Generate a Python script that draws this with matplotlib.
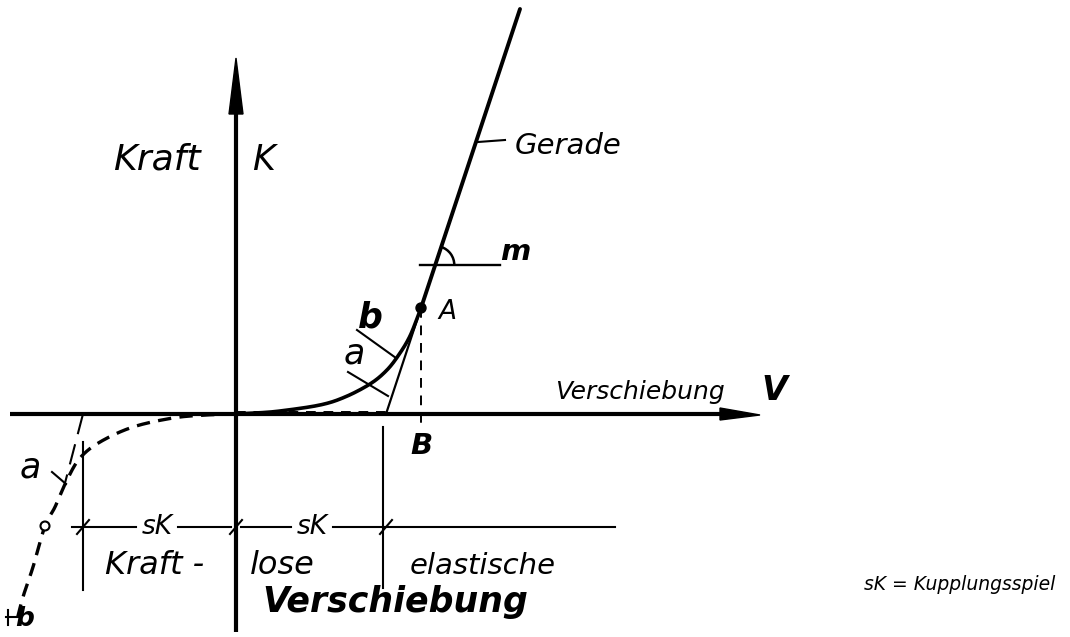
import numpy as np
import matplotlib
matplotlib.use("Agg")
import matplotlib.pyplot as plt
from matplotlib.patches import Polygon, Arc, Circle

# coordinates: origin at the axis crossing, 1 unit = 1 px, y up
sk = 150
# Gerade (straight line), point A on it
gerade_x = [150, 185, 284]
gerade_y = [0, 106, 405]
A = (185, 106)
# curve b (real coupling characteristic, tension side)
b_x = [0, 20, 44, 84, 109, 134, 150, 162, 174, 185]
b_y = [0, 1, 3, 9, 17, 30, 43, 58, 78, 106]
# dashed curve, compression side
c_x = [0, -30, -63, -103, -136, -156, -169, -181, -191, -203, -213, -220]
c_y = [0, -1, -4, -13, -28, -44, -66, -93, -112, -153, -183, -210]
# straight line a, compression side
a_x = [-153, -171]
a_y = [0, -69]

dim_y = -113
dim_ticks = [-153, 0, 150]


def smooth(xs, ys, n=20):
    # catmull-rom through the read points
    p = np.column_stack([xs, ys]).astype(float)
    p = np.vstack([2 * p[0] - p[1], p, 2 * p[-1] - p[-2]])
    out = []
    t = np.linspace(0, 1, n, endpoint=False)[:, None]
    for i in range(1, len(p) - 2):
        p0, p1, p2, p3 = p[i - 1], p[i], p[i + 1], p[i + 2]
        seg = 0.5 * (2 * p1 + (-p0 + p2) * t + (2 * p0 - 5 * p1 + 4 * p2 - p3) * t ** 2
                     + (-p0 + 3 * p1 - 3 * p2 + p3) * t ** 3)
        out.append(seg)
    out.append(p[-2][None, :])
    out = np.vstack(out)
    return out[:, 0], out[:, 1]


fig = plt.figure(figsize=(10.7, 6.37), dpi=100)
ax = fig.add_axes([0, 0, 1, 1])
ax.set_xlim(-236, 834)
ax.set_ylim(-223, 414)
ax.axis("off")

k = "black"
font = dict(family="DejaVu Sans", style="italic", color=k)

# axes with arrows
ax.plot([0, 0], [-218, 310], color=k, lw=3, solid_capstyle="butt")
ax.add_patch(Polygon([[-7, 300], [7, 300], [0, 356]], closed=True, color=k))
ax.plot([-226, 490], [0, 0], color=k, lw=3, solid_capstyle="butt")
ax.add_patch(Polygon([[484, -6], [484, 6], [524, -1]], closed=True, color=k))

# Gerade: thin below A, thick above
ax.plot(gerade_x[:2], gerade_y[:2], color=k, lw=1.6)
ax.plot(gerade_x[1:], gerade_y[1:], color=k, lw=2.8, solid_capstyle="round")
ax.plot([242, 269], [272, 274], color=k, lw=1.5)

# angle m
ax.plot([184, 264], [149, 149], color=k, lw=1.7)
xm = gerade_x[0] + 149 * (gerade_x[2] - gerade_x[0]) / gerade_y[2]
ang = np.degrees(np.arctan2(gerade_y[2], gerade_x[2] - gerade_x[0]))
ax.add_patch(Arc((xm, 149), 38, 38, theta1=0, theta2=ang, color=k, lw=1.8))

# curve b
bx, by = smooth(b_x, b_y)
ax.plot(bx, by, color=k, lw=2.6, solid_capstyle="round")
# curve a: no force until sk
ax.plot([0, 150], [2, 2], color=k, lw=1.4, ls=(0, (5, 4)))

# point A and dashed line to B
ax.add_patch(Circle(A, 5, color=k, zorder=5))
ax.plot([A[0], A[0]], [A[1], -11], color=k, lw=1.4, ls=(0, (5, 4)))

# leaders for a, b
ax.plot([121, 160], [84, 56], color=k, lw=1.5)
ax.plot([112, 152], [42, 18], color=k, lw=1.5)

# compression side
cx, cy = smooth(c_x, c_y)
ax.plot(cx, cy, color=k, lw=2.4, ls=(0, (4, 2.5)))
ax.plot(a_x, a_y, color=k, lw=1.5, ls=(0, (10, 5)))
ax.add_patch(Circle((c_x[8], c_y[8]), 4.5, facecolor="white", edgecolor=k, lw=1.5, zorder=5))
ax.plot([-184, -170], [-58, -70], color=k, lw=1.5)
ax.plot([-230, -216], [-203, -203], color=k, lw=1.5)
ax.plot([-228, -228], [-196, -211], color=k, lw=1.5)

# dimension line with sK
ax.plot([-164, -100], [dim_y, dim_y], color=k, lw=1.5)
ax.plot([-58, -5], [dim_y, dim_y], color=k, lw=1.5)
ax.plot([5, 55], [dim_y, dim_y], color=k, lw=1.5)
ax.plot([97, 379], [dim_y, dim_y], color=k, lw=1.5)
for t in dim_ticks:
    ax.plot([t - 6, t + 6], [dim_y - 7, dim_y + 7], color=k, lw=1.5)
ax.plot([-153, -153], [-28, -176], color=k, lw=1.5)
ax.plot([147, 147], [-13, -174], color=k, lw=1.5)

# texts
ax.text(-79, 254, "Kraft", ha="center", va="center", fontsize=26, **font)
ax.text(16, 254, "K", ha="left", va="center", fontsize=25, **font)
ax.text(279, 268, "Gerade", ha="left", va="center", fontsize=21, **font)
ax.text(264, 162, "m", ha="left", va="center", fontsize=21, fontweight="bold", **font)
ax.text(202, 102, "A", ha="left", va="center", fontsize=19, **font)
ax.text(134, 96, "b", ha="center", va="center", fontsize=25, fontweight="bold", **font)
ax.text(118, 60, "a", ha="center", va="center", fontsize=25, **font)
ax.text(319, 22, "Verschiebung", ha="left", va="center", fontsize=18, **font)
ax.text(525, 24, "V", ha="left", va="center", fontsize=24, fontweight="bold", **font)
ax.text(186, -32, "B", ha="center", va="center", fontsize=21, fontweight="bold", **font)
ax.text(-206, -54, "a", ha="center", va="center", fontsize=25, **font)
ax.text(-211, -205, "b", ha="center", va="center", fontsize=19, fontweight="bold", **font)
ax.text(-79, dim_y, "sK", ha="center", va="center", fontsize=19, **font)
ax.text(76, dim_y, "sK", ha="center", va="center", fontsize=19, **font)
ax.text(-131, -152, "Kraft -", ha="left", va="center", fontsize=23, **font)
ax.text(14, -152, "lose", ha="left", va="center", fontsize=23, **font)
ax.text(174, -152, "elastische", ha="left", va="center", fontsize=21, **font)
ax.text(26, -188, "Verschiebung", ha="left", va="center", fontsize=25, fontweight="bold", **font)
ax.text(628, -171, "sK = Kupplungsspiel", ha="left", va="center", fontsize=13.5, **font)

fig.savefig("out.png", dpi=100, facecolor="white")
